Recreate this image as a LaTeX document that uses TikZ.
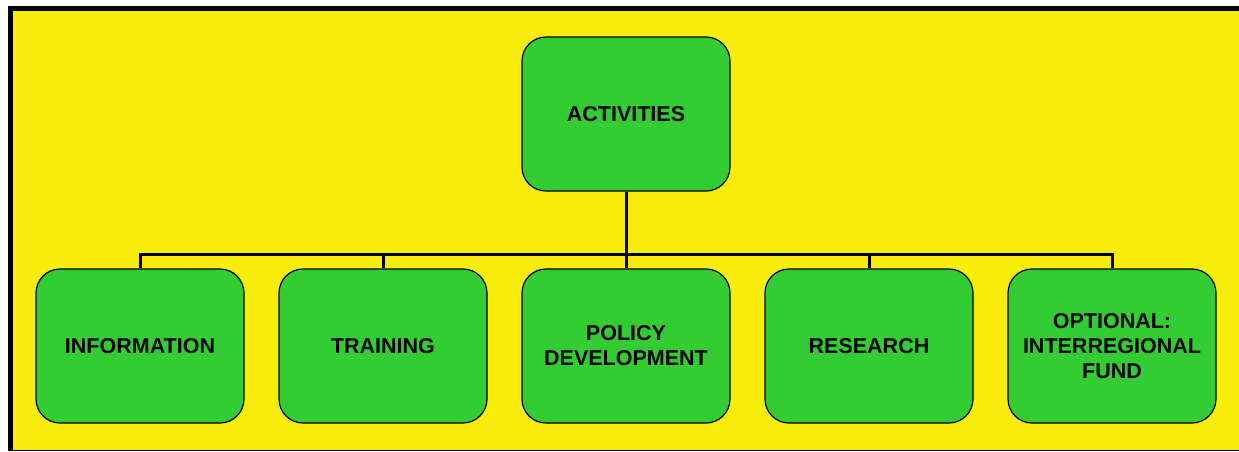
\documentclass[tikz,border=0pt]{standalone}
\usepackage{fontspec}
\setmainfont{Liberation Sans}
\usepackage{tikz}
\usetikzlibrary{calc}

\definecolor{actgreen}{HTML}{33CC33}
\definecolor{bgyellow}{HTML}{F7EC0A}
\tikzset{
  actbox/.style={draw=black, line width=0.6pt, fill=actgreen, rounded corners=12pt,
    minimum width=104pt, minimum height=77pt, align=center,
    font=\fontsize{10.75}{12.5}\selectfont\bfseries},
  link/.style={line width=1.5pt, black}
}

\begin{document}
\begin{tikzpicture}[x=0.5pt, y=-0.5pt]
\useasboundingbox (0,0) rectangle (1239,451);
% frame and background
\fill[black] (8,6) rectangle (1240,451);
\fill[bgyellow] (13,11) rectangle (1240,450);
% boxes
\node[actbox] (act) at (626,114) {ACTIVITIES};
\node[actbox] (info) at (140,346) {INFORMATION};
\node[actbox] (train) at (383,346) {TRAINING};
\node[actbox] (policy) at (626,346) {POLICY\\DEVELOPMENT};
\node[actbox] (research) at (869,346) {RESEARCH};
\node[actbox] (fund) at (1112,346) {OPTIONAL:\\INTERREGIONAL\\FUND};
% connectors
\coordinate (bus) at (626,254);
\draw[link] (act.south) -- (bus);
\foreach \n in {info,train,policy,research,fund}
  \draw[link] (\n.north) |- (bus);
\end{tikzpicture}
\end{document}
